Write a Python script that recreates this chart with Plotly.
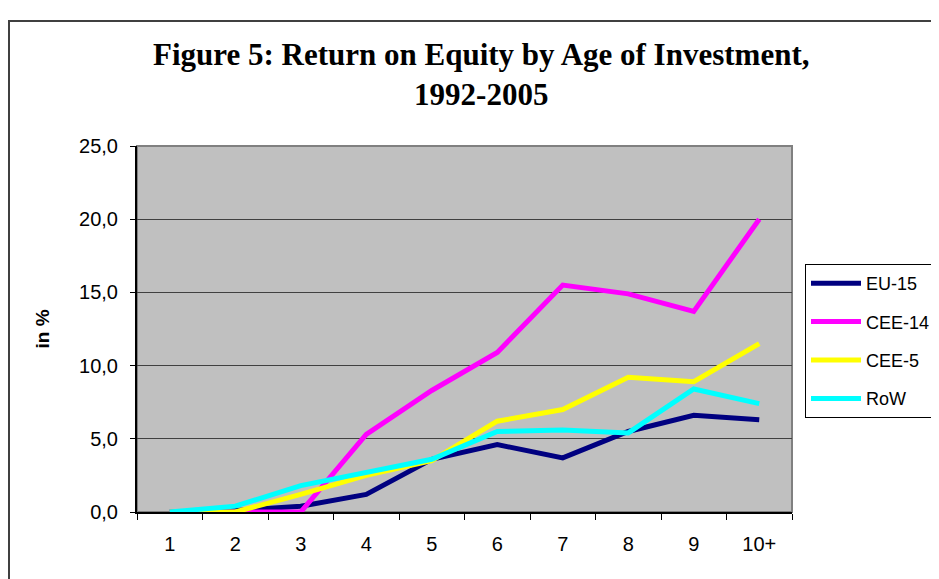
import plotly.graph_objects as go

# Age of investment (years)
ages = ["1", "2", "3", "4", "5", "6", "7", "8", "9", "10+"]

# Return on equity, in %
eu15 = [0.0, 0.1, 0.4, 1.2, 3.6, 4.6, 3.7, 5.5, 6.6, 6.3]
cee14 = [0.0, 0.0, 0.0, 5.3, 8.3, 10.9, 15.5, 14.9, 13.7, 20.0]
cee5 = [0.0, 0.0, 1.2, 2.5, 3.5, 6.2, 7.0, 9.2, 8.9, 11.5]
row = [0.0, 0.4, 1.8, 2.7, 3.6, 5.5, 5.6, 5.4, 8.4, 7.4]

series = [
    ("EU-15", eu15, "#000080"),
    ("CEE-14", cee14, "#FF00FF"),
    ("CEE-5", cee5, "#FFFF00"),
    ("RoW", row, "#00FFFF"),
]

fig = go.Figure()
for name, vals, color in series:
    fig.add_trace(go.Scatter(
        x=ages, y=vals, name=name, mode="lines", legendgroup=name,
        line=dict(color=color, width=5),
    ))

# page body has an 8px margin, so the figure sits 8px right/down on screen
OFF = 8
W, H = 939, 579
L, R, T, B = 137 - OFF, 155, 146 - OFF, 75
pw, ph = W - L - R, H - T - B

def px_x(p):
    return (p - OFF - L) / pw

def px_y(p):
    return (H - B - (p - OFF)) / ph

fig.update_layout(
    width=W, height=H,
    margin=dict(l=L, r=R, t=T, b=B, autoexpand=False),
    paper_bgcolor="white",
    plot_bgcolor="#C0C0C0",
    separators=",.",
    font=dict(family="Liberation Sans, Arial", size=19, color="black"),
    showlegend=True,
    legend=dict(
        x=px_x(805), y=px_y(264), xanchor="left", yanchor="top",
        bordercolor="black", borderwidth=1, bgcolor="white",
        font=dict(size=18), tracegroupgap=12, itemwidth=50,
    ),
    xaxis=dict(
        type="category", range=[-0.5, 9.5], tickson="boundaries",
        ticks="outside", ticklen=6, automargin=False,
        tickcolor="black", showline=True, linecolor="black", linewidth=2,
        showgrid=False, zeroline=False, tickfont=dict(size=20),
        ticklabelstandoff=13,
    ),
    yaxis=dict(
        range=[0, 25], dtick=5, tickformat=".1f", ticks="outside", ticklen=5,
        tickcolor="black", showline=True, linecolor="black", linewidth=2,
        showgrid=True, gridcolor="#404040", gridwidth=1, zeroline=False,
        tickfont=dict(size=20), automargin=False, ticklabelstandoff=8,
        title=dict(text="<b>in %</b>", font=dict(size=19), standoff=24),
    ),
    shapes=[
        # plot area border
        dict(type="rect", xref="paper", yref="paper", x0=0, x1=1, y0=0, y1=1,
             line=dict(color="#808080", width=2), layer="below"),
        # chart area border
        dict(type="rect", xref="paper", yref="paper",
             x0=px_x(9), x1=px_x(990), y0=px_y(640), y1=px_y(21),
             line=dict(color="#404040", width=2)),
    ],
    annotations=[
        dict(
            text="<b>Figure 5: Return on Equity by Age of Investment,<br>1992-2005</b>",
            xref="paper", yref="paper", x=px_x(481), y=px_y(75),
            xanchor="center", yanchor="middle", showarrow=False,
            font=dict(family="Liberation Serif, Times New Roman", size=31, color="black"),
        )
    ],
)

fig.write_html("out.html")
